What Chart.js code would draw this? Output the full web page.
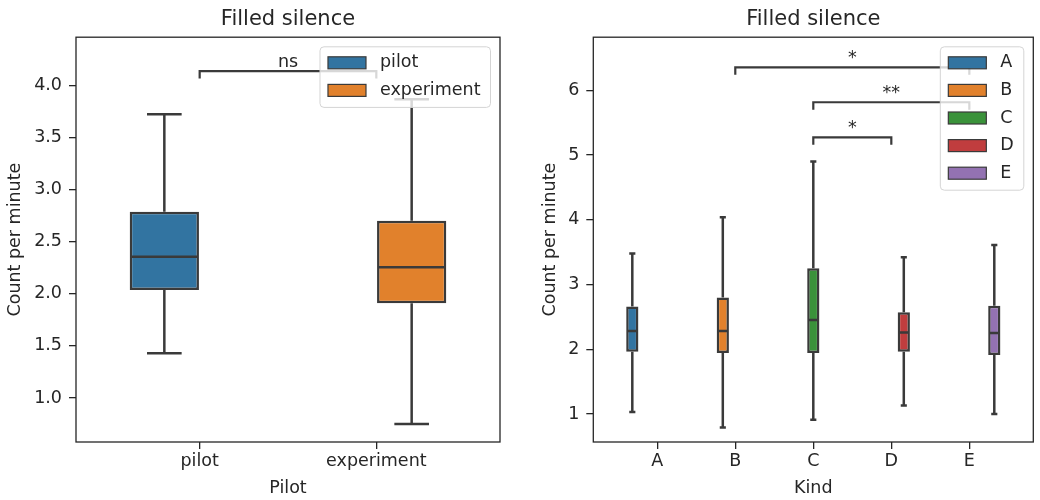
<!DOCTYPE html>
<html>
<head>
<meta charset="utf-8">
<script src="https://cdn.jsdelivr.net/npm/chart.js@4.4.0/dist/chart.umd.min.js"></script>
<style>
  html, body { margin: 0; padding: 0; background: #fff; }
  #wrap { position: relative; width: 1040px; height: 500px; }
  canvas { position: absolute; top: 0; }
  #chartPilot { left: 0; }
  #chartKind { left: 520px; }
</style>
</head>
<body>
<div id="wrap">
  <canvas id="chartPilot" width="520" height="500"></canvas>
  <canvas id="chartKind" width="520" height="500"></canvas>
</div>
<script>
// 左图: pilot / experiment
const pilotGroups = ['pilot', 'experiment'];
const pilotColors = ['#3274a1', '#e1812c'];
const pilotMin = [1.43, 0.75];
const pilotQ1 = [2.035, 1.908];
const pilotMed = [2.355, 2.253];
const pilotQ3 = [2.787, 2.70];
const pilotMax = [3.72, 3.866];
const pilotTicks = [1.0, 1.5, 2.0, 2.5, 3.0, 3.5, 4.0];
const pilotPairs = [[0, 1]];
const pilotPairY = [4.134];
const pilotPairText = ['ns'];

// 右图: Kind A-E
const kindGroups = ['A', 'B', 'C', 'D', 'E'];
const kindColors = ['#3274a1', '#e1812c', '#3a923a', '#c03d3e', '#9372b2'];
const kindMin = [1.03, 0.79, 0.91, 1.13, 1.00];
const kindQ1 = [1.96, 1.94, 1.94, 1.96, 1.91];
const kindMed = [2.28, 2.28, 2.45, 2.26, 2.25];
const kindQ3 = [2.66, 2.80, 3.25, 2.57, 2.67];
const kindMax = [3.48, 4.04, 4.90, 3.42, 3.61];
const kindTicks = [1, 2, 3, 4, 5, 6];
const kindPairs = [[1, 4], [2, 4], [2, 3]];
const kindPairY = [6.355, 5.815, 5.274];
const kindPairText = ['*', '**', '*'];

const FONT = "'DejaVu Sans', sans-serif";
const TEXT_COLOR = '#262626';
const LINE_COLOR = '#3a3a3a';

Chart.defaults.font.family = FONT;
Chart.defaults.color = TEXT_COLOR;
Chart.defaults.animation = false;

// 须线、中位线、显著性括号、图例、边框
function makeExtras(cfg) {
  return {
    id: 'boxExtras',
    afterDatasetsDraw(chart) {
      const ctx = chart.ctx;
      const xs = chart.scales.x;
      const ys = chart.scales.y;
      ctx.save();
      ctx.strokeStyle = LINE_COLOR;
      ctx.lineWidth = 2.5;
      cfg.groups.forEach((g, i) => {
        const bar = chart.getDatasetMeta(i).data[0];
        const cx = bar.x;
        const half = bar.width / 2;
        const yMin = ys.getPixelForValue(cfg.min[i]);
        const yQ1 = ys.getPixelForValue(cfg.q1[i]);
        const yMed = ys.getPixelForValue(cfg.med[i]);
        const yQ3 = ys.getPixelForValue(cfg.q3[i]);
        const yMax = ys.getPixelForValue(cfg.max[i]);
        ctx.beginPath();
        ctx.moveTo(cx, yQ3); ctx.lineTo(cx, yMax);
        ctx.moveTo(cx, yQ1); ctx.lineTo(cx, yMin);
        ctx.moveTo(cx - half / 2, yMax); ctx.lineTo(cx + half / 2, yMax);
        ctx.moveTo(cx - half / 2, yMin); ctx.lineTo(cx + half / 2, yMin);
        ctx.moveTo(cx - half + 1, yMed); ctx.lineTo(cx + half - 1, yMed);
        ctx.stroke();
      });

      // 显著性标注
      ctx.lineWidth = 2.2;
      ctx.font = '17.5px ' + FONT;
      ctx.fillStyle = TEXT_COLOR;
      ctx.textAlign = 'center';
      ctx.textBaseline = 'alphabetic';
      cfg.pairs.forEach((p, k) => {
        const x1 = xs.getPixelForValue(p[0]);
        const x2 = xs.getPixelForValue(p[1]);
        const yTop = ys.getPixelForValue(cfg.pairY[k]);
        const yLeg = ys.getPixelForValue(cfg.pairY[k] - cfg.pairLeg);
        ctx.beginPath();
        ctx.moveTo(x1, yLeg); ctx.lineTo(x1, yTop);
        ctx.lineTo(x2, yTop); ctx.lineTo(x2, yLeg);
        ctx.stroke();
        ctx.fillText(cfg.pairText[k], (x1 + x2) / 2, yTop - 4.5);
      });
      ctx.restore();
    },
    afterDraw(chart) {
      const ctx = chart.ctx;
      const area = chart.chartArea;
      ctx.save();
      // 边框
      ctx.strokeStyle = TEXT_COLOR;
      ctx.lineWidth = 1.3;
      ctx.strokeRect(area.left, area.top, area.right - area.left, area.bottom - area.top);

      // 图例
      ctx.font = '17.5px ' + FONT;
      const textW = Math.max(...cfg.groups.map(g => ctx.measureText(g).width));
      const n = cfg.groups.length;
      const rowH = 27.6;
      const w = 8 + 38 + 14 + textW + 10;
      const h = 16 + (n - 1) * rowH + 17;
      const left = area.right - 9.5 - w;
      const top = area.top + 9.6;
      ctx.beginPath();
      ctx.roundRect(left, top, w, h, 4);
      ctx.fillStyle = 'rgba(255,255,255,0.8)';
      ctx.fill();
      ctx.strokeStyle = '#d4d4d4';
      ctx.lineWidth = 1;
      ctx.stroke();
      cfg.groups.forEach((g, i) => {
        const cy = top + 16 + i * rowH;
        ctx.fillStyle = cfg.colors[i];
        ctx.fillRect(left + 8, cy - 6, 38, 12);
        ctx.strokeStyle = LINE_COLOR;
        ctx.lineWidth = 1.2;
        ctx.strokeRect(left + 8, cy - 6, 38, 12);
        ctx.fillStyle = TEXT_COLOR;
        ctx.textAlign = 'left';
        ctx.textBaseline = 'middle';
        ctx.fillText(g, left + 8 + 38 + 14, cy);
      });
      ctx.restore();
    }
  };
}

function createBoxChart(canvasId, cfg) {
  const datasets = cfg.groups.map((g, i) => ({
    label: g,
    data: [{ x: i, y: [cfg.q1[i], cfg.q3[i]] }],
    backgroundColor: cfg.colors[i],
    borderColor: LINE_COLOR,
    borderWidth: 2.5,
    borderSkipped: false,
    categoryPercentage: 0.8,
    barPercentage: 0.98
  }));

  const gridOpts = {
    display: true,
    drawOnChartArea: false,
    drawTicks: true,
    tickLength: 7,
    color: TEXT_COLOR,
    lineWidth: 1.3,
    offset: false
  };

  new Chart(document.getElementById(canvasId), {
    type: 'bar',
    data: { datasets: datasets },
    options: {
      responsive: false,
      animation: false,
      layout: { padding: { left: 0, right: cfg.padRight, top: 0, bottom: 0 } },
      plugins: {
        legend: { display: false },
        tooltip: { enabled: false },
        title: {
          display: true,
          text: 'Filled silence',
          fullSize: false,
          color: TEXT_COLOR,
          font: { size: 21, weight: 'normal' },
          padding: { top: 7, bottom: 5 }
        }
      },
      scales: {
        x: {
          type: 'linear',
          min: cfg.xMin,
          max: cfg.xMax,
          offset: false,
          grid: gridOpts,
          border: { display: false },
          ticks: {
            autoSkip: false,
            maxRotation: 0,
            padding: 2,
            font: { size: 17.5 },
            callback: value => cfg.groups[value]
          },
          afterBuildTicks: scale => { scale.ticks = cfg.groups.map((g, i) => ({ value: i })); },
          afterFit: scale => { scale.height = 58; },
          title: {
            display: true,
            text: cfg.xTitle,
            font: { size: 17.5 },
            padding: { top: 0, bottom: 1 }
          }
        },
        y: {
          type: 'linear',
          min: cfg.yMin,
          max: cfg.yMax,
          grid: gridOpts,
          border: { display: false },
          ticks: {
            padding: 7,
            font: { size: 17.5 },
            callback: value => cfg.tickFmt(value)
          },
          afterBuildTicks: scale => { scale.ticks = cfg.yTicks.map(v => ({ value: v })); },
          afterFit: scale => { scale.width = cfg.yAxisWidth; },
          title: {
            display: true,
            text: 'Count per minute',
            font: { size: 17.5 },
            padding: { top: cfg.yTitlePad, bottom: 0 }
          }
        }
      }
    },
    plugins: [makeExtras(cfg)]
  });
}

createBoxChart('chartPilot', {
  groups: pilotGroups, colors: pilotColors,
  min: pilotMin, q1: pilotQ1, med: pilotMed, q3: pilotQ3, max: pilotMax,
  yTicks: pilotTicks, tickFmt: v => v.toFixed(1),
  pairs: pilotPairs, pairY: pilotPairY, pairText: pilotPairText, pairLeg: 0.071,
  xMin: -0.7, xMax: 1.7, yMin: 0.578, yMax: 4.46,
  xTitle: 'Pilot', padRight: 20, yAxisWidth: 76, yTitlePad: 5
});

createBoxChart('chartKind', {
  groups: kindGroups, colors: kindColors,
  min: kindMin, q1: kindQ1, med: kindMed, q3: kindQ3, max: kindMax,
  yTicks: kindTicks, tickFmt: v => String(v),
  pairs: kindPairs, pairY: kindPairY, pairText: kindPairText, pairLeg: 0.115,
  xMin: -0.82, xMax: 4.82, yMin: 0.567, yMax: 6.82,
  xTitle: 'Kind', padRight: 6.7, yAxisWidth: 73.3, yTitlePad: 19.5
});
</script>
</body>
</html>
